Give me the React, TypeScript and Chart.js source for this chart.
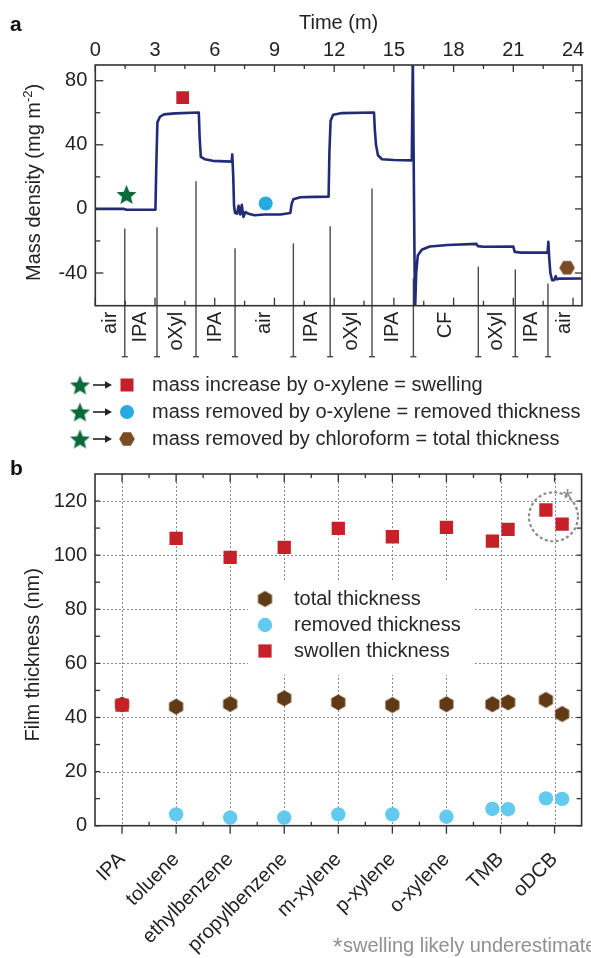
import React, { useEffect, useRef } from 'react';
import { Chart, registerables } from 'chart.js';

Chart.register(...registerables);

const FONT = '"Liberation Sans", Arial, Helvetica, sans-serif';
Chart.defaults.font.family = FONT;
Chart.defaults.color = '#222222';

// ---------------- Panel a data ----------------
const timeMinutes = [0, 1.45, 1.55, 3.02, 3.07, 3.12, 3.25, 3.45, 4.0, 5.2, 5.24, 5.3, 5.5, 5.9, 6.85, 6.88, 6.93, 6.97, 7.02, 7.12, 7.2, 7.28, 7.36, 7.44, 7.54, 7.7, 8.0, 8.5, 9.3, 9.8, 9.86, 9.95, 10.3, 11.0, 11.72, 11.76, 11.82, 11.95, 12.4, 14.0, 14.04, 14.1, 14.2, 14.4, 15.0, 15.9, 15.95, 16.06, 16.12, 16.2, 16.4, 16.8, 17.7, 19.15, 19.22, 19.5, 21.0, 21.07, 21.4, 22.72, 22.76, 22.8, 22.86, 22.95, 23.05, 23.13, 23.2, 23.3, 24.45];
const massDensity = [0, 0, -0.5, -0.5, 30, 54, 57.5, 59, 59.6, 60.2, 45, 32.5, 31, 30, 29.5, 34, 20, 2, -2.5, -3, 2, -3.5, 2.5, -5, -2, -3, -4, -3.5, -3.5, -2.5, 3, 6, 7.3, 7.5, 7.6, 35, 55, 58.8, 59.8, 60.2, 50, 40, 33.5, 31, 30.5, 30.3, 95, -65, -40, -29, -25.5, -23.5, -22.5, -21.8, -23.2, -23.6, -23.5, -26.8, -27.3, -27.3, -20.5, -30, -40, -44.5, -44.5, -42, -44, -43.5, -43.4];
const timeTicks = [0, 3, 6, 9, 12, 15, 18, 21, 24];
const timeMinorTicks = [1.5, 4.5, 7.5, 10.5, 13.5, 16.5, 19.5, 22.5];
const massTicks = [80, 40, 0, -40];
const massMinorTicks = [60, 20, -20];
const stageLabels = ['air', 'IPA', 'oXyl', 'IPA', 'air', 'IPA', 'oXyl', 'IPA', 'CF', 'oXyl', 'IPA', 'air'];
const stageBoundaries = [1.48, 3.1, 5.06, 7.02, 9.95, 11.8, 13.9, 15.98, 19.24, 21.1, 22.74];
const boundaryTops = [-12.2, -11.5, 17.2, -24.6, -21.5, -10.9, 12.8, -43.4, -35.9, -37.8, -46.5];
const startPoint = [{ x: 1.57, y: 9 }];
const swellingPoint = [{ x: 4.39, y: 69.4 }];
const removedPoint = [{ x: 8.56, y: 3.4 }];
const totalPoint = [{ x: 23.7, y: -36.7 }];
const legendALines = [
  'mass increase by o-xylene = swelling',
  'mass removed by o-xylene = removed thickness',
  'mass removed by chloroform = total thickness',
];

// ---------------- Panel b data ----------------
const solventNames = ['IPA', 'toluene', 'ethylbenzene', 'propylbenzene', 'm-xylene', 'p-xylene', 'o-xylene', 'TMB', 'oDCB'];
const samplePosition = [0, 1, 2, 3, 4, 5, 6, 6.85, 7.14, 7.84, 8.14];
const totalThickness = [44.8, 44.0, 45.0, 47.1, 45.6, 44.6, 44.9, 44.9, 45.6, 46.5, 41.3];
const removedThickness = [null, 4.2, 3.0, 3.0, 4.2, 4.2, 3.3, 6.2, 6.1, 10.1, 9.9];
const swollenThickness = [44.6, 106.2, 99.2, 102.9, 109.9, 106.8, 110.3, 105.2, 109.5, 116.7, 111.5];
const thicknessTicks = [0, 20, 40, 60, 80, 100, 120];
const thicknessMinorTicks = [10, 30, 50, 70, 90, 110];
const solventMinorTicks = [0.5, 1.5, 2.5, 3.5, 4.5, 5.5, 6.5, 7.5];
const legendBLabels = ['total thickness', 'removed thickness', 'swollen thickness'];
const underestimatedCenter = { x: 7.98, y: 114.2 };

const C = {
  line: '#232a78',
  axis: '#333333',
  text: '#222222',
  sep: '#4a4a4a',
  star: '#0b6a39',
  redA: '#c41e2f',
  blueA: '#27a9e1',
  brownA: '#7a4b25',
  redB: '#c62128',
  blueB: '#62c9ef',
  brownB: '#603a15',
  grid: '#8a8a8a',
  note: '#8f8f8f',
};

function makeCanvas(s: number) {
  const c = document.createElement('canvas');
  c.width = s;
  c.height = s;
  return c;
}
function makeStar(outer: number, inner: number, color: string) {
  const s = Math.ceil(outer * 2) + 2;
  const c = makeCanvas(s);
  const g = c.getContext('2d')!;
  g.fillStyle = color;
  g.beginPath();
  for (let i = 0; i < 10; i++) {
    const r = i % 2 === 0 ? outer : inner;
    const a = -Math.PI / 2 + (i * Math.PI) / 5;
    const px = s / 2 + r * Math.cos(a);
    const py = s / 2 + r * Math.sin(a) + outer * 0.095;
    if (i === 0) g.moveTo(px, py);
    else g.lineTo(px, py);
  }
  g.closePath();
  g.fill();
  return c;
}
function makeHexagon(r: number, color: string, pointyTop: boolean) {
  const s = Math.ceil(r * 2) + 2;
  const c = makeCanvas(s);
  const g = c.getContext('2d')!;
  g.fillStyle = color;
  g.beginPath();
  for (let i = 0; i < 6; i++) {
    const a = (pointyTop ? -Math.PI / 2 : 0) + (i * Math.PI) / 3;
    const px = s / 2 + r * Math.cos(a);
    const py = s / 2 + r * Math.sin(a);
    if (i === 0) g.moveTo(px, py);
    else g.lineTo(px, py);
  }
  g.closePath();
  g.fill();
  return c;
}

function seg(ctx: CanvasRenderingContext2D, x1: number, y1: number, x2: number, y2: number) {
  ctx.beginPath();
  ctx.moveTo(x1, y1);
  ctx.lineTo(x2, y2);
  ctx.stroke();
}

function drawRotatedTitle(
  ctx: CanvasRenderingContext2D,
  parts: { text: string; size: number; raise: number }[],
  baselineX: number,
  centerY: number
) {
  ctx.save();
  let total = 0;
  const widths = parts.map((p) => {
    ctx.font = `${p.size}px ${FONT}`;
    const w = ctx.measureText(p.text).width;
    total += w;
    return w;
  });
  ctx.translate(baselineX, centerY);
  ctx.rotate(-Math.PI / 2);
  ctx.textAlign = 'left';
  ctx.textBaseline = 'alphabetic';
  ctx.fillStyle = C.text;
  let x = -total / 2;
  parts.forEach((p, i) => {
    ctx.font = `${p.size}px ${FONT}`;
    ctx.fillText(p.text, x, -p.raise);
    x += widths[i];
  });
  ctx.restore();
}

function drawImg(ctx: CanvasRenderingContext2D, img: HTMLCanvasElement, x: number, y: number) {
  ctx.drawImage(img, x - img.width / 2, y - img.height / 2);
}

function buildPanelA(): any {
  const starImg = makeStar(10.5, 4.7, C.star);
  const hexImg = makeHexagon(7.8, C.brownA, false);

  const plugin = {
    id: 'panelA',
    beforeDatasetsDraw(chart: any) {
      const { ctx, chartArea: ca, scales } = chart;
      const x = scales.x;
      const y = scales.y;
      ctx.save();
      ctx.strokeStyle = C.sep;
      ctx.lineWidth = 1.4;
      stageBoundaries.forEach((t, i) => {
        const px = x.getPixelForValue(t);
        const top = y.getPixelForValue(boundaryTops[i]);
        const bottom = ca.bottom + 51;
        seg(ctx, px, top, px, bottom);
        seg(ctx, px - 3, bottom, px + 3, bottom);
      });
      ctx.restore();
    },
    afterDraw(chart: any) {
      const { ctx, chartArea: ca, scales } = chart;
      const x = scales.x;
      const y = scales.y;
      ctx.save();
      // frame
      ctx.strokeStyle = C.axis;
      ctx.lineWidth = 1.6;
      ctx.strokeRect(ca.left, ca.top, ca.right - ca.left, ca.bottom - ca.top);
      // ticks (inward)
      ctx.lineWidth = 1.3;
      timeTicks.forEach((v) => {
        const px = x.getPixelForValue(v);
        seg(ctx, px, ca.top, px, ca.top + 7);
        seg(ctx, px, ca.bottom, px, ca.bottom - 8);
      });
      timeMinorTicks.forEach((v) => {
        const px = x.getPixelForValue(v);
        seg(ctx, px, ca.top, px, ca.top + 4);
        seg(ctx, px, ca.bottom, px, ca.bottom - 5);
      });
      massTicks.forEach((v) => {
        const py = y.getPixelForValue(v);
        seg(ctx, ca.left, py, ca.left + 8, py);
        seg(ctx, ca.right, py, ca.right - 7, py);
      });
      massMinorTicks.forEach((v) => {
        const py = y.getPixelForValue(v);
        seg(ctx, ca.left, py, ca.left + 5, py);
        seg(ctx, ca.right, py, ca.right - 7, py);
      });
      // stage labels
      const edges = [x.min, ...stageBoundaries, x.max];
      ctx.fillStyle = C.text;
      ctx.font = `20px ${FONT}`;
      ctx.textAlign = 'right';
      ctx.textBaseline = 'middle';
      stageLabels.forEach((lab, i) => {
        const px = x.getPixelForValue((edges[i] + edges[i + 1]) / 2);
        ctx.save();
        ctx.translate(px, ca.bottom + 6);
        ctx.rotate(-Math.PI / 2);
        ctx.fillText(lab, 0, 0);
        ctx.restore();
      });
      // y title
      drawRotatedTitle(
        ctx,
        [
          { text: 'Mass density (mg m', size: 20, raise: 0 },
          { text: '-2', size: 13, raise: 8 },
          { text: ')', size: 20, raise: 0 },
        ],
        40,
        (ca.top + ca.bottom) / 2 - 3
      );
      // panel letter
      ctx.fillStyle = '#111';
      ctx.font = `bold 21px ${FONT}`;
      ctx.textAlign = 'left';
      ctx.textBaseline = 'alphabetic';
      ctx.fillText('a', 10, 31);
      // middle legend
      const rows = [385, 412, 439];
      ctx.font = `20px ${FONT}`;
      ctx.textBaseline = 'middle';
      rows.forEach((ry, i) => {
        drawImg(ctx, starImg, 80, ry);
        ctx.strokeStyle = '#222';
        ctx.fillStyle = '#222';
        ctx.lineWidth = 1.6;
        seg(ctx, 93, ry, 106, ry);
        ctx.beginPath();
        ctx.moveTo(112, ry);
        ctx.lineTo(105, ry - 3.8);
        ctx.lineTo(105, ry + 3.8);
        ctx.closePath();
        ctx.fill();
        if (i === 0) {
          ctx.fillStyle = C.redA;
          ctx.fillRect(127 - 6.5, ry - 6.5, 13, 13);
        } else if (i === 1) {
          ctx.fillStyle = C.blueA;
          ctx.beginPath();
          ctx.arc(127, ry, 7, 0, Math.PI * 2);
          ctx.fill();
        } else {
          drawImg(ctx, hexImg, 127, ry);
        }
        ctx.fillStyle = '#262626';
        ctx.textAlign = 'left';
        ctx.fillText(legendALines[i], 152, ry);
      });
      ctx.restore();
    },
  };

  return {
    type: 'scatter',
    data: {
      datasets: [
        {
          data: timeMinutes.map((t, i) => ({ x: t, y: massDensity[i] })),
          showLine: true,
          borderColor: C.line,
          borderWidth: 2.6,
          pointRadius: 0,
          tension: 0,
          borderJoinStyle: 'round',
          borderCapStyle: 'round',
          order: 5,
        },
        { data: startPoint, pointStyle: starImg, pointRadius: 8, order: 1 },
        { data: swellingPoint, pointStyle: 'rect', pointRadius: 9, pointBackgroundColor: C.redA, pointBorderWidth: 0, order: 1 },
        { data: removedPoint, pointStyle: 'circle', pointRadius: 7, pointBackgroundColor: C.blueA, pointBorderWidth: 0, order: 1 },
        { data: totalPoint, pointStyle: hexImg, pointRadius: 7, order: 1 },
      ],
    },
    options: {
      responsive: false,
      animation: false,
      events: [],
      layout: { padding: { left: 0, right: 5.7, top: 0, bottom: 149.3 } },
      plugins: { legend: { display: false }, tooltip: { enabled: false } },
      scales: {
        x: {
          type: 'linear',
          position: 'top',
          min: 0,
          max: 24.45,
          afterBuildTicks: (s: any) => {
            s.ticks = timeTicks.map((v) => ({ value: v }));
          },
          afterFit: (s: any) => {
            s.height = 65;
          },
          grid: { display: false, drawTicks: true, tickLength: 3 },
          border: { display: false },
          ticks: { autoSkip: false, maxRotation: 0, padding: 0, font: { size: 20 }, color: C.text },
          title: { display: true, text: 'Time (m)', font: { size: 20 }, color: C.text, padding: { top: 11, bottom: 0 } },
        },
        y: {
          type: 'linear',
          min: -60.4,
          max: 89.8,
          afterBuildTicks: (s: any) => {
            s.ticks = massTicks.map((v) => ({ value: v }));
          },
          afterFit: (s: any) => {
            s.width = 95.3;
          },
          grid: { display: false, drawTicks: true, tickLength: 6 },
          border: { display: false },
          ticks: { padding: 2, font: { size: 20 }, color: C.text, callback: (v: number) => String(v) },
        },
      },
    },
    plugins: [plugin],
  };
}

function buildPanelB(): any {
  const hexImg = makeHexagon(8.1, C.brownB, true);

  const plugin = {
    id: 'panelB',
    beforeDatasetsDraw(chart: any) {
      const { ctx, chartArea: ca, scales } = chart;
      const x = scales.x;
      const y = scales.y;
      ctx.save();
      // dotted grid
      ctx.strokeStyle = C.grid;
      ctx.lineWidth = 1;
      ctx.setLineDash([2, 2]);
      thicknessTicks.forEach((v) => {
        if (v === 0) return;
        const py = Math.round(y.getPixelForValue(v)) + 0.5;
        seg(ctx, ca.left, py, ca.right, py);
      });
      solventNames.forEach((_, i) => {
        const px = Math.round(x.getPixelForValue(i)) + 0.5;
        seg(ctx, px, ca.top, px, ca.bottom);
      });
      ctx.setLineDash([]);
      // legend box
      const lx0 = 248;
      const lx1 = 475;
      const ly0 = 127;
      const ly1 = 220;
      ctx.fillStyle = '#ffffff';
      ctx.fillRect(lx0, ly0, lx1 - lx0, ly1 - ly0);
      const rows = [144, 170, 196];
      ctx.font = `20px ${FONT}`;
      ctx.textAlign = 'left';
      ctx.textBaseline = 'middle';
      rows.forEach((ry, i) => {
        if (i === 0) drawImg(ctx, hexImg, 265, ry);
        else if (i === 1) {
          ctx.fillStyle = C.blueB;
          ctx.beginPath();
          ctx.arc(265, ry, 7.2, 0, Math.PI * 2);
          ctx.fill();
        } else {
          ctx.fillStyle = C.redB;
          ctx.fillRect(265 - 6.6, ry - 6.6, 13.2, 13.2);
        }
        ctx.fillStyle = '#262626';
        ctx.fillText(legendBLabels[i], 294, ry);
      });
      ctx.restore();
    },
    afterDraw(chart: any) {
      const { ctx, chartArea: ca, scales } = chart;
      const x = scales.x;
      const y = scales.y;
      ctx.save();
      ctx.strokeStyle = C.axis;
      ctx.lineWidth = 1.6;
      ctx.strokeRect(ca.left, ca.top, ca.right - ca.left, ca.bottom - ca.top);
      ctx.lineWidth = 1.3;
      solventNames.forEach((_, i) => {
        const px = x.getPixelForValue(i);
        seg(ctx, px, ca.top, px, ca.top + 8);
        seg(ctx, px, ca.bottom, px, ca.bottom + 8);
      });
      solventMinorTicks.forEach((v) => {
        const px = x.getPixelForValue(v);
        seg(ctx, px, ca.top, px, ca.top + 4);
        seg(ctx, px, ca.bottom, px, ca.bottom - 4);
      });
      [...thicknessTicks, ...thicknessMinorTicks].forEach((v) => {
        const py = y.getPixelForValue(v);
        seg(ctx, ca.left, py, ca.left + 5, py);
        seg(ctx, ca.right, py, ca.right - 5, py);
      });
      // dashed circle
      const cx = x.getPixelForValue(underestimatedCenter.x);
      const cy = y.getPixelForValue(underestimatedCenter.y);
      ctx.strokeStyle = C.grid;
      ctx.lineWidth = 2.2;
      ctx.setLineDash([3, 2.5]);
      ctx.beginPath();
      ctx.arc(cx, cy, 24.5, 0, Math.PI * 2);
      ctx.stroke();
      ctx.setLineDash([]);
      ctx.fillStyle = C.note;
      ctx.font = `26px ${FONT}`;
      ctx.textAlign = 'center';
      ctx.textBaseline = 'alphabetic';
      ctx.fillText('*', cx + 14, cy - 10);
      // y title
      drawRotatedTitle(ctx, [{ text: 'Film thickness (nm)', size: 20, raise: 0 }], 38.5, (ca.top + ca.bottom) / 2 + 5);
      // panel letter
      ctx.fillStyle = '#111';
      ctx.font = `bold 21px ${FONT}`;
      ctx.textAlign = 'left';
      ctx.fillText('b', 10, 20);
      // footnote
      ctx.fillStyle = C.note;
      ctx.font = `24px ${FONT}`;
      ctx.fillText('*', 333, 500);
      ctx.font = `20px ${FONT}`;
      ctx.fillText('swelling likely underestimated', 343, 496.7);
      ctx.restore();
    },
  };

  const totalPts = samplePosition.map((p, i) => ({ x: p, y: totalThickness[i] }));
  const removedPts = samplePosition
    .map((p, i) => ({ x: p, y: removedThickness[i] }))
    .filter((d) => d.y !== null);
  const swollenPts = samplePosition.map((p, i) => ({ x: p, y: swollenThickness[i] }));

  return {
    type: 'scatter',
    data: {
      datasets: [
        { label: 'total thickness', data: totalPts, pointStyle: hexImg, pointRadius: 8, order: 3 },
        { label: 'removed thickness', data: removedPts, pointStyle: 'circle', pointRadius: 7.2, pointBackgroundColor: C.blueB, pointBorderWidth: 0, order: 2 },
        { label: 'swollen thickness', data: swollenPts, pointStyle: 'rect', pointRadius: 9.4, pointBackgroundColor: C.redB, pointBorderWidth: 0, order: 1 },
      ],
    },
    options: {
      responsive: false,
      animation: false,
      events: [],
      layout: { padding: { left: 0, right: 5, top: 19, bottom: 0 } },
      plugins: { legend: { display: false }, tooltip: { enabled: false } },
      scales: {
        x: {
          type: 'linear',
          position: 'bottom',
          min: -0.5,
          max: 8.5,
          afterBuildTicks: (s: any) => {
            s.ticks = solventNames.map((_, i) => ({ value: i }));
          },
          afterFit: (s: any) => {
            s.height = 132.3;
          },
          grid: { display: false, drawTicks: true, tickLength: 22 },
          border: { display: false },
          ticks: {
            autoSkip: false,
            minRotation: 45,
            maxRotation: 45,
            padding: 0,
            font: { size: 20 },
            color: C.text,
            callback: (v: number) => solventNames[v] ?? '',
          },
        },
        y: {
          type: 'linear',
          min: 0,
          max: 130,
          afterBuildTicks: (s: any) => {
            s.ticks = thicknessTicks.map((v) => ({ value: v }));
          },
          afterFit: (s: any) => {
            s.width = 95;
          },
          grid: { display: false, drawTicks: true, tickLength: 6 },
          border: { display: false },
          ticks: { padding: 2, font: { size: 20 }, color: C.text },
        },
      },
    },
    plugins: [plugin],
  };
}

export default function App() {
  const refA = useRef<HTMLCanvasElement>(null);
  const refB = useRef<HTMLCanvasElement>(null);
  useEffect(() => {
    const a = new Chart(refA.current!, buildPanelA());
    const b = new Chart(refB.current!, buildPanelB());
    return () => {
      a.destroy();
      b.destroy();
    };
  }, []);
  return (
    <div style={{ position: 'absolute', left: 0, top: 0, width: 591, height: 958, background: '#fff', overflow: 'hidden' }}>
      <canvas ref={refA} width={591} height={455} style={{ position: 'absolute', left: 0, top: 0, width: 591, height: 455 }} />
      <canvas ref={refB} width={591} height={503} style={{ position: 'absolute', left: 0, top: 455, width: 591, height: 503 }} />
    </div>
  );
}
